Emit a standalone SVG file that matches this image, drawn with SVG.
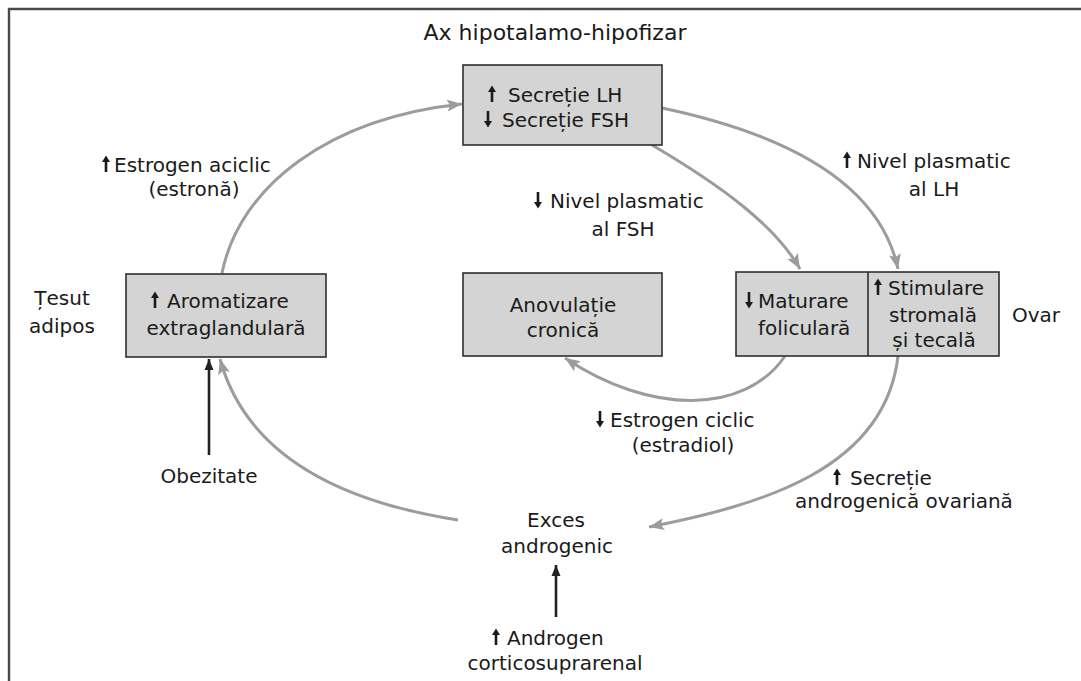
<svg xmlns="http://www.w3.org/2000/svg" width="1081" height="681" viewBox="0 0 1081 681">
  <style>
    text { font-family: "DejaVu Sans", "Liberation Sans", sans-serif; font-size: 20px; fill: #1a1a1a; }
    .mid { text-anchor: middle; }
    .box { fill: #d4d4d4; stroke: #2e2e2e; stroke-width: 1.6; }
    .flow { fill: none; stroke: #9c9c9c; stroke-width: 3; marker-end: url(#grayHead); }
    .push { fill: none; stroke: #222; stroke-width: 2.6; marker-end: url(#blackHead); }
    .frame { fill: none; stroke: #4a4a4a; stroke-width: 2.4; }
  </style>
  <defs>
    <marker id="grayHead" markerUnits="userSpaceOnUse" markerWidth="16" markerHeight="12" refX="15" refY="6" orient="auto">
      <path d="M0,0 L15,6 L0,12 L3,6 Z" fill="#9c9c9c"/>
    </marker>
    <marker id="blackHead" markerUnits="userSpaceOnUse" markerWidth="12" markerHeight="10" refX="11" refY="5" orient="auto">
      <path d="M0,0.5 L11,5 L0,9.5 Z" fill="#222"/>
    </marker>
    <!-- small up/down change indicators -->
    <path id="up" d="M0,-8.5 L4,-2 L1.3,-2 L1.3,8 L-1.3,8 L-1.3,-2 L-4,-2 Z" fill="#1a1a1a"/>
    <path id="down" d="M0,8.5 L4,2 L1.3,2 L1.3,-8 L-1.3,-8 L-1.3,2 L-4,2 Z" fill="#1a1a1a"/>
  </defs>

  <rect width="1081" height="681" fill="#ffffff"/>
  <path class="frame" d="M1081,9 L9,9 L9,681"/>

  <text class="mid" x="555" y="40" style="font-size:22px">Ax hipotalamo-hipofizar</text>

  <g id="connectors">
    <path class="flow" d="M222,273 C 240,185 330,118 462,104"/>
    <path class="flow" d="M662,108 C 790,135 880,185 898,269"/>
    <path class="flow" d="M652,145 C 720,185 775,225 800,269"/>
    <path class="flow" d="M785,356 C 745,415 650,415 565,358"/>
    <path class="flow" d="M898,356 C 885,470 760,505 649,527"/>
    <path class="flow" d="M458,520 C 330,500 245,450 220,359"/>
    <path class="push" d="M209,455 L209,359"/>
    <path class="push" d="M556,617 L556,565"/>
  </g>

  <g id="axis">
    <rect class="box" x="463" y="65" width="199" height="80"/>
    <use href="#up" x="492" y="94"/>
    <text x="508" y="102">Secreție LH</text>
    <use href="#down" x="488" y="119"/>
    <text x="502" y="127">Secreție FSH</text>
  </g>

  <g id="adipose">
    <rect class="box" x="126" y="274" width="200" height="83"/>
    <use href="#up" x="155" y="300"/>
    <text x="167" y="308">Aromatizare</text>
    <text class="mid" x="226" y="335">extraglandulară</text>
  </g>

  <g id="anovulation">
    <rect class="box" x="463" y="273" width="199" height="83"/>
    <text class="mid" x="563" y="312">Anovulație</text>
    <text class="mid" x="563" y="337">cronică</text>
  </g>

  <g id="ovary">
    <rect class="box" x="736" y="272" width="263" height="84"/>
    <line x1="868" y1="272" x2="868" y2="356" stroke="#2e2e2e" stroke-width="1.6"/>
    <use href="#down" x="749" y="300"/>
    <text x="758" y="308">Maturare</text>
    <text x="758" y="335">foliculară</text>
    <use href="#up" x="878" y="287"/>
    <text x="888" y="295">Stimulare</text>
    <text class="mid" x="933" y="322">stromală</text>
    <text class="mid" x="934" y="347">și tecală</text>
  </g>

  <g id="labels">
    <text class="mid" x="62" y="305">Țesut</text>
    <text class="mid" x="62" y="333">adipos</text>
    <text x="1012" y="322">Ovar</text>

    <use href="#up" x="106" y="164"/>
    <text x="114" y="172">Estrogen aciclic</text>
    <text class="mid" x="194" y="196">(estronă)</text>

    <use href="#up" x="847" y="160"/>
    <text x="857" y="168">Nivel plasmatic</text>
    <text class="mid" x="934" y="196">al LH</text>

    <use href="#down" x="538" y="200"/>
    <text x="550" y="208">Nivel plasmatic</text>
    <text class="mid" x="623" y="236">al FSH</text>

    <use href="#down" x="600" y="419"/>
    <text x="610" y="427">Estrogen ciclic</text>
    <text class="mid" x="683" y="452">(estradiol)</text>

    <use href="#up" x="837" y="477"/>
    <text x="850" y="485">Secreție</text>
    <text class="mid" x="904" y="508">androgenică ovariană</text>
  </g>

  <g id="excess">
    <text class="mid" x="556" y="527">Exces</text>
    <text class="mid" x="557" y="553">androgenic</text>
  </g>

  <g id="obesity">
    <text class="mid" x="209" y="483">Obezitate</text>
  </g>

  <g id="adrenal">
    <use href="#up" x="496" y="637"/>
    <text x="507" y="645">Androgen</text>
    <text class="mid" x="555" y="670">corticosuprarenal</text>
  </g>
</svg>
